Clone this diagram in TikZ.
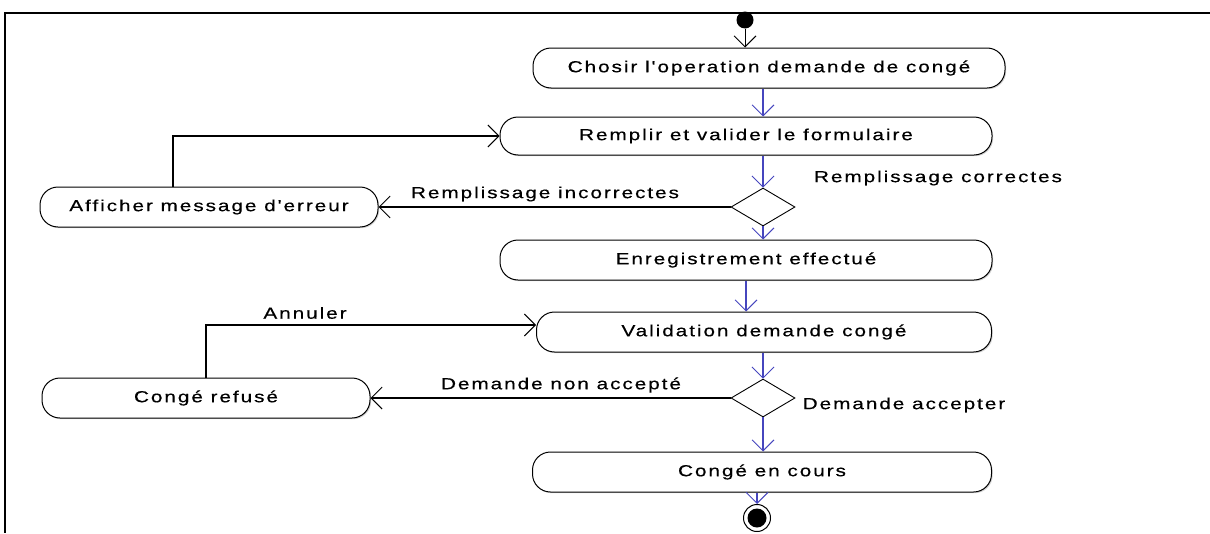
\documentclass[tikz,border=0pt]{standalone}
\usepackage{fontspec}
\setmainfont{Liberation Sans}[Ligatures=TeXOff,FakeStretch=1.3,LetterSpace=12,FakeBold=0.4]
\usetikzlibrary{arrows.meta,shapes.geometric,shadows}
\definecolor{flowblue}{RGB}{70,70,190}
\begin{document}
\begin{tikzpicture}[x=1pt,y=-1pt,
  font=\fontsize{16}{19}\selectfont,
  act/.style={draw,line width=1pt,rounded corners=18pt,minimum height=40pt,fill=white,
    inner sep=0pt,drop shadow={opacity=0.35,shadow xshift=1.2pt,shadow yshift=-1.2pt}},
  choice/.style={draw,line width=0.9pt,diamond,fill=white,minimum width=64pt,minimum height=38pt,
    inner sep=0pt,aspect=1.7},
  head/.style={-{Straight Barb[length=11pt,width=22pt,line width=0.9pt]}},
  flow/.style={head,draw=flowblue,line width=1.3pt},
  back/.style={head,draw=black,line width=1.1pt},
  lbl/.style={inner sep=0pt}]
\useasboundingbox (0,0) rectangle (1210,533);
% frame
\draw[line width=1.6pt] (1210,13) -- (5,13) -- (5,533);

% columns used by the vertical flows
\coordinate (c1) at (763,0);
\coordinate (c2) at (746,0);
\coordinate (c3) at (757,0);

% start and end states
\node[circle,fill=black,minimum size=17pt,inner sep=0pt] (start) at (745,20) {};
\node[circle,draw,line width=1pt,fill=white,minimum size=27pt,inner sep=0pt] (end) at (757,518) {};
\node[circle,fill=black,minimum size=19pt,inner sep=0pt] (endin) at (end.center) {};

% actions
\node[act,minimum width=472pt] (a1) at (769,68) {Chosir l'operation demande de congé};
\node[act,minimum width=492pt,minimum height=38pt] (a2) at (746,136) {Remplir et valider le formulaire};
\node[act,minimum width=338pt] (err) at (209,207) {Afficher message d'erreur};
\node[act,minimum width=492pt] (a3) at (746,260) {Enregistrement effectué};
\node[act,minimum width=455pt] (a4) at (764,332) {Validation demande congé};
\node[act,minimum width=328pt] (ref) at (206,398) {Congé refusé};
\node[act,minimum width=459pt] (a5) at (762,472) {Congé en cours};

% decisions
\node[choice] (d1) at (763,207) {};
\node[choice] (d2) at (763,398) {};

% main flow
\draw[back,line width=1pt] (start) -- (a1.north -| start);
\draw[flow] (a1.south -| c1) -- (a2.north -| c1);
\draw[flow] (a2.south -| c1) -- (d1.north);
\draw[flow] (d1.south) -- (a3.north -| c1);
\draw[flow] (a3.south -| c2) -- (a4.north -| c2);
\draw[flow] (a4.south -| c1) -- (d2.north);
\draw[flow] (d2.south) -- (a5.north -| c1);
\draw[flow] (a5.south -| c3) -- (end.north);

% alternative flows
\draw[back] (d1.west) -- (err.east);
\coordinate (e1) at (173,0);
\draw[back] (err.north -| e1) |- (a2.west);
\draw[back] (d2.west) -- (ref.east);
\coordinate (e2) at (206,0);
\coordinate (v1) at (0,325);
\draw[back] (ref.north -| e2) |- (a4.west |- v1);

% guard labels
\node[lbl] (l1) at (938,178) {Remplissage correctes};
\node[lbl] (l2) at (545,194) {Remplissage incorrectes};
\node[lbl] (l3) at (305,313) {Annuler};
\node[lbl] (l4) at (561,385) {Demande non accepté};
\node[lbl] (l5) at (904,405) {Demande accepter};
\end{tikzpicture}
\end{document}
